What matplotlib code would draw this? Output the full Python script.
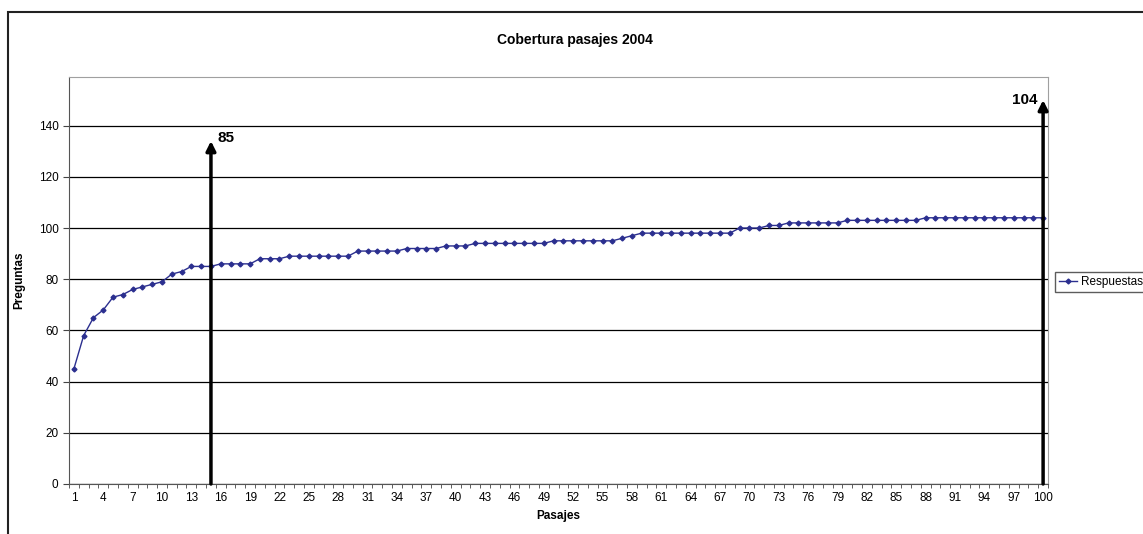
import matplotlib.pyplot as plt
import numpy as np
from matplotlib.patches import Rectangle

plt.rcParams['font.family'] = ['Liberation Sans', 'DejaVu Sans']

# preguntas cubiertas segun cantidad de pasajes
pasajes = np.arange(1, 101)
respuestas = ([45, 58, 65, 68, 73, 74, 76, 77, 78, 79, 82, 83, 85, 85, 85]
              + [86] * 4 + [88] * 3 + [89] * 7 + [91] * 5 + [92] * 4
              + [93] * 3 + [94] * 8 + [95] * 7 + [96, 97] + [98] * 10
              + [100] * 3 + [101] * 2 + [102] * 6 + [103] * 8 + [104] * 13)
marcas = [(15, 85, 134), (100, 104, 150)]
xticks = list(range(1, 101, 3))


def main():
    fig = plt.figure(figsize=(11.43, 5.34), dpi=100)
    # chart area frame
    fig.patches.append(Rectangle((8 / 1143, -0.1), 1.2, 1.1 - 12 / 534,
                                 transform=fig.transFigure, fill=False,
                                 edgecolor='#222222', lw=1.5))
    ax = fig.add_axes([69 / 1143, 50 / 534, 979 / 1143, 407 / 534])

    ax.plot(pasajes, respuestas, color='#2b2f8f', lw=1, marker='D',
            markersize=2.5, label='Respuestas')
    ax.set_xlim(0.5, 100.5)
    ax.set_ylim(0, 159)
    ax.set_yticks(range(0, 141, 20))
    ax.yaxis.grid(True, color='black', lw=0.9)
    ax.set_axisbelow(True)

    ax.set_xticks(xticks)
    ax.set_xticks(np.arange(0.5, 101, 1), minor=True)
    ax.tick_params(axis='x', which='major', length=0, pad=6, labelsize=8.5)
    ax.tick_params(axis='x', which='minor', length=3, color='#444444')
    ax.tick_params(axis='y', length=4, labelsize=8.5, color='#444444')

    for side in ['top', 'right']:
        ax.spines[side].set_color('#a0a0a0')
    ax.spines['left'].set_color('#555555')
    ax.spines['bottom'].set_color('#555555')

    for x, valor, tope in marcas:
        ax.annotate('', xy=(x, tope), xytext=(x, 0),
                    arrowprops=dict(arrowstyle='-|>', lw=2.5, color='black',
                                    mutation_scale=14, shrinkA=0, shrinkB=0))
    ax.text(15.7, 135, '85', fontsize=11, fontweight='bold', va='center')
    ax.text(99.4, 150, '104', fontsize=11, fontweight='bold', va='center',
            ha='right')

    ax.set_xlabel('Pasajes', fontsize=8.5, fontweight='bold', labelpad=4)
    ax.set_ylabel('Preguntas', fontsize=8.5, fontweight='bold', labelpad=10)
    fig.text(575 / 1143, 1 - 40 / 534, 'Cobertura pasajes 2004',
             fontsize=10, fontweight='bold', ha='center', va='center')

    ax.legend(loc='center left', bbox_to_anchor=(1055 / 1143, 1 - 282 / 534),
              bbox_transform=fig.transFigure, fontsize=8.5, frameon=True,
              fancybox=False, edgecolor='#333333', handlelength=1.6,
              handletextpad=0.3, borderpad=0.3, borderaxespad=0)

    fig.savefig('out.png', dpi=100)


if __name__ == '__main__':
    main()
